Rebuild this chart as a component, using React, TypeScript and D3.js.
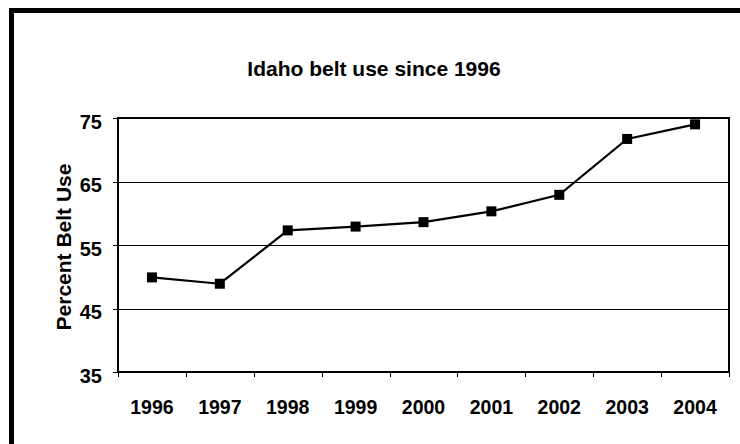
import React, { useEffect } from 'react';
import * as d3 from 'd3';

const years = ['1996', '1997', '1998', '1999', '2000', '2001', '2002', '2003', '2004'];
const beltUse = [49.9, 48.9, 57.3, 57.9, 58.6, 60.3, 62.9, 71.7, 74.0];
const yTicks = [35, 45, 55, 65, 75];

const W = 740, H = 444;
const margin = { top: 118, left: 118, right: 11, bottom: 72 };
const font = "'Liberation Sans', Arial, Helvetica, sans-serif";

export default function App() {
  useEffect(() => {
    document.body.style.margin = '0';
    document.body.style.overflow = 'hidden';
  }, []);

  const width = W - margin.left - margin.right;
  const height = H - margin.top - margin.bottom;

  const x = d3.scaleBand().domain(years).range([0, width]);
  const y = d3.scaleLinear().domain([35, 75]).range([height, 0]);

  const line = d3.line<number>()
    .x((d, i) => x(years[i])! + x.bandwidth() / 2)
    .y(d => y(d));

  // tick marks sit on the category boundaries, like the spreadsheet original
  const xBounds = years.map(yr => x(yr)!).concat([width]);

  return (
    <svg width={W} height={H} style={{ position: 'absolute', left: 0, top: 0, background: '#fff', display: 'block' }}>
      {/* outer frame: only its left and top edges fall inside the picture */}
      <path d={`M11.5,${H} V10.5 H${W}`} fill="none" stroke="#000" strokeWidth={5} />
      <text x={374} y={76} textAnchor="middle" fontFamily={font} fontWeight="bold" fontSize={21}>
        Idaho belt use since 1996
      </text>
      <text transform={`translate(71,247) rotate(-90)`} textAnchor="middle" fontFamily={font} fontWeight="bold" fontSize={21}>
        Percent Belt Use
      </text>
      <g transform={`translate(${margin.left},${margin.top})`}>
        {yTicks.map(t => (
          <g key={t}>
            {t > 35 && t < 75 && (
              <line x1={0} x2={width} y1={Math.round(y(t)) + 0.5} y2={Math.round(y(t)) + 0.5} stroke="#000" strokeWidth={1} />
            )}
            <line x1={-5} x2={0} y1={Math.round(y(t)) + 0.5} y2={Math.round(y(t)) + 0.5} stroke="#000" strokeWidth={1} />
            <text x={-16} y={y(t) + 10.5} textAnchor="end" fontFamily={font} fontWeight="bold" fontSize={20}>
              {t}
            </text>
          </g>
        ))}
        {xBounds.map((b, i) => (
          <line key={i} x1={Math.round(b) + 0.5} x2={Math.round(b) + 0.5} y1={height} y2={height + 5} stroke="#000" strokeWidth={1} />
        ))}
        {years.map(yr => (
          <text key={yr} x={x(yr)! + x.bandwidth() / 2} y={height + 42} textAnchor="middle" fontFamily={font} fontWeight="bold" fontSize={19.5}>
            {yr}
          </text>
        ))}
        <rect x={0} y={0} width={width} height={height} fill="none" stroke="#000" strokeWidth={2} />
        <path d={line(beltUse) || ''} fill="none" stroke="#000" strokeWidth={2.2} />
        {beltUse.map((v, i) => (
          <rect key={i} x={x(years[i])! + x.bandwidth() / 2 - 5} y={y(v) - 5} width={10} height={10} fill="#000" />
        ))}
      </g>
    </svg>
  );
}
